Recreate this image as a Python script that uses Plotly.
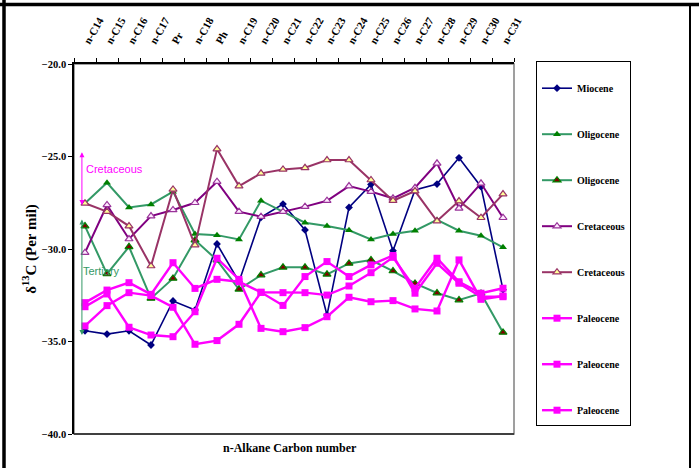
import plotly.graph_objects as go

# Carbon-number categories along the top axis
categories = ["n-C14", "n-C15", "n-C16", "n-C17", "Pr", "n-C18", "Ph", "n-C19", "n-C20",
              "n-C21", "n-C22", "n-C23", "n-C24", "n-C25", "n-C26", "n-C27", "n-C28",
              "n-C29", "n-C30", "n-C31"]

# delta 13C values (per mil) for each sample
miocene = [-34.42, -34.60, -34.42, -35.19, -32.81, -33.30, -29.73, -31.77, -28.29, -27.57,
           -28.97, -33.57, -27.75, -26.51, -30.09, -26.81, -26.49, -25.07, -26.63, -32.20]
oligocene_a = [-27.53, -26.42, -27.75, -27.59, -26.90, -29.19, -29.25, -29.48, -27.39, -27.98,
               -28.58, -28.76, -28.99, -29.48, -29.19, -29.01, -28.43, -29.01, -29.28, -29.91]
oligocene_b = [-28.76, -31.35, -29.88, -32.67, -31.59, -29.52, -30.60, -32.18, -31.41, -30.99,
               -30.99, -31.37, -30.78, -30.60, -31.19, -31.86, -32.38, -32.76, -32.40, -34.51]
cretaceous_a = [-30.20, -27.62, -29.46, -28.22, -27.89, -27.50, -26.36, -27.98, -28.25, -27.98,
                -27.71, -27.39, -26.60, -26.90, -27.26, -26.69, -25.37, -27.80, -26.45, -28.31]
cretaceous_b = [-27.53, -27.98, -28.76, -30.92, -26.78, -29.79, -24.60, -26.60, -25.91, -25.70,
                -25.61, -25.19, -25.19, -26.27, -27.39, -26.87, -28.49, -27.41, -28.31, -27.03]
paleocene_a = [-32.90, -32.22, -31.82, -32.45, -30.74, -32.13, -31.64, -31.77, -32.34, -32.36,
               -32.36, -32.49, -32.00, -31.28, -30.45, -32.12, -30.50, -31.77, -32.39, -32.12]
paleocene_b = [-34.16, -33.06, -32.36, -32.52, -33.15, -35.15, -34.95, -34.07, -32.34, -33.05,
               -31.49, -30.68, -31.49, -30.86, -30.35, -32.39, -30.77, -31.85, -32.58, -32.58]
paleocene_c = [-33.12, -32.43, -34.23, -34.65, -34.74, -33.39, -30.50, -31.64, -34.29, -34.47,
               -34.25, -33.66, -32.61, -32.85, -32.79, -33.24, -33.35, -30.59, -32.72, -32.54]

y_ticks = [-20, -25, -30, -35, -40]

SERIF = "Liberation Serif"
SANS = "Liberation Sans"

series = [
    ("Miocene", miocene, "#000080", 1.6,
     dict(symbol="diamond", size=6, color="#000080", line=dict(width=0))),
    ("Oligocene", oligocene_a, "#339966", 2.0,
     dict(symbol="triangle-up", size=7, color="#008000", line=dict(width=0))),
    ("Oligocene", oligocene_b, "#339966", 2.0,
     dict(symbol="triangle-up", size=7, color="#800000", line=dict(width=1.2, color="#008000"))),
    ("Cretaceous", cretaceous_a, "#800080", 2.0,
     dict(symbol="triangle-up", size=7, color="#FFE8FF", line=dict(width=1.2, color="#993399"))),
    ("Cretaceous", cretaceous_b, "#993366", 2.0,
     dict(symbol="triangle-up", size=7, color="#FFFF99", line=dict(width=1.2, color="#993366"))),
    ("Paleocene", paleocene_a, "#FF00FF", 2.4,
     dict(symbol="square", size=7, color="#FF00FF", line=dict(width=0))),
    ("Paleocene", paleocene_b, "#FF00FF", 2.4,
     dict(symbol="square", size=7, color="#FF00FF", line=dict(width=0))),
    ("Paleocene", paleocene_c, "#FF00FF", 2.4,
     dict(symbol="square", size=7, color="#FF00FF", line=dict(width=0))),
]

fig = go.Figure()
for i, (name, vals, lc, lw, mk) in enumerate(series):
    fig.add_trace(go.Scatter(
        x=categories, y=vals, name=name, mode="lines+markers",
        line=dict(color=lc, width=lw), marker=mk, legendgroup=f"g{i}",
    ))

# Plot-area frame (grey) plus black bottom edge
fig.add_shape(type="rect", xref="paper", yref="paper", x0=0, x1=1, y0=0, y1=1,
              line=dict(color="#808080", width=1.5), layer="below")
fig.add_shape(type="line", xref="paper", yref="paper", x0=0, x1=1, y0=0, y1=0,
              line=dict(color="#202020", width=1.5))

# Outer page border
W, H, L, T, PW, PH = 699, 468, 74, 64, 440, 370
def px(xp):
    return (xp - L) / PW
def py(yp):
    return (T + PH - yp) / PH
fig.add_shape(type="line", xref="paper", yref="paper", x0=px(4), x1=px(4), y0=py(0), y1=py(468),
              line=dict(color="black", width=3.5))
fig.add_shape(type="line", xref="paper", yref="paper", x0=px(0), x1=px(699), y0=py(4.5), y1=py(4.5),
              line=dict(color="black", width=3.5))
fig.add_shape(type="line", xref="paper", yref="paper", x0=px(690), x1=px(690), y0=py(4.5), y1=py(468),
              line=dict(color="black", width=2))

# Age-range arrows with labels
fig.add_annotation(x=-0.14, y=-27.62, ax=-0.14, ay=-24.69, axref="x", ayref="y",
                   xref="x", yref="y", text="", showarrow=True, arrowhead=2, arrowsize=1,
                   arrowwidth=1, arrowcolor="#FF00FF", arrowside="end+start",
                   startarrowhead=2, startarrowsize=1)
fig.add_annotation(x=-0.05, y=-25.68, xref="x", yref="y", text="Cretaceous", showarrow=False,
                   xanchor="left", font=dict(family=SANS, size=11, color="#FF00FF"))
fig.add_annotation(x=-0.14, y=-34.65, ax=-0.14, ay=-28.32, axref="x", ayref="y",
                   xref="x", yref="y", text="", showarrow=True, arrowhead=2, arrowsize=1,
                   arrowwidth=1, arrowcolor="#339966", arrowside="end+start",
                   startarrowhead=2, startarrowsize=1)
fig.add_annotation(x=-0.2, y=-31.17, xref="x", yref="y", text="Tertiary", showarrow=False,
                   xanchor="left", font=dict(family=SANS, size=11, color="#339966"))

# Bottom axis caption
fig.add_annotation(x=0.49, y=py(457), xref="paper", yref="paper", text="<b>n-Alkane Carbon number</b>",
                   showarrow=False, font=dict(family=SERIF, size=12, color="black"))

fig.update_layout(
    width=W, height=H,
    margin=dict(l=L, r=W - L - PW, t=T, b=H - T - PH, pad=0),
    paper_bgcolor="white", plot_bgcolor="white",
    showlegend=True,
    legend=dict(x=px(536), y=py(61), xanchor="left", yanchor="top",
                bordercolor="black", borderwidth=1, bgcolor="white",
                font=dict(family=SERIF, size=10, color="black", weight="bold"),
                title=dict(text=" ", font=dict(size=9)),
                tracegroupgap=27, itemwidth=30, maxheight=440),
    xaxis=dict(side="top", type="category", range=[-0.5, 19.5], tickangle=-60,
               tickson="boundaries", ticks="outside", ticklen=4, tickcolor="black",
               ticklabelstandoff=10,
               showline=True, linecolor="black", linewidth=1.5, showgrid=False,
               tickfont=dict(family=SERIF, size=11, color="black", weight="bold"),
               zeroline=False),
    yaxis=dict(range=[-40, -20], tickvals=y_ticks, tickformat=".1f",
               ticks="outside", ticklen=4, tickcolor="black",
               showline=True, linecolor="black", linewidth=1.5, showgrid=False,
               zeroline=False,
               tickfont=dict(family=SERIF, size=10.5, color="black", weight="bold"),
               title=dict(text="<b>δ<sup>13</sup>C (Per mil)</b>",
                          font=dict(family=SERIF, size=15, color="black"), standoff=2)),
)

fig.write_html("out.html")
